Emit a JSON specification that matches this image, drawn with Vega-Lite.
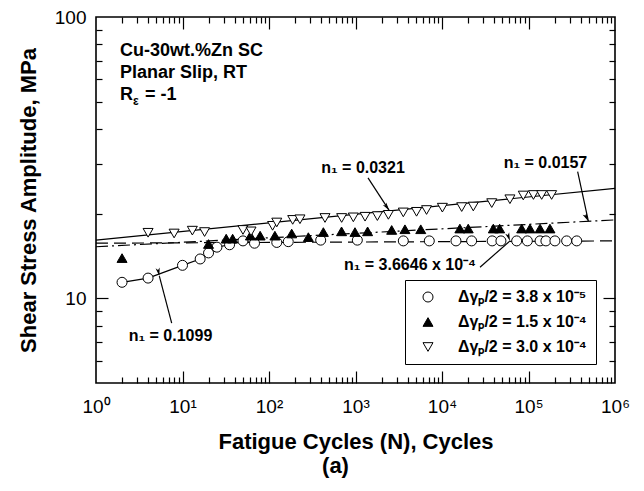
{
  "$schema": "https://vega.github.io/schema/vega-lite/v6.json",
  "width": 519,
  "height": 366,
  "autosize": "none",
  "padding": {"left": 96, "top": 17, "right": 29, "bottom": 108},
  "background": "white",
  "config": {
    "font": "Liberation Sans",
    "view": {"stroke": "black", "strokeWidth": 1.6},
    "axis": {"domain": false, "tickColor": "black", "tickWidth": 1.2, "labelColor": "black", "titleColor": "black", "grid": false, "labelFlush": false, "labelOverlap": false}
  },
  "title": {"text": "(a)", "orient": "bottom", "fontSize": 22, "fontWeight": "bold", "dx": -20, "offset": 4, "color": "black"},
  "datasets": {
    "fitSolid": [{"N": 1, "S": 16.1}, {"N": 1000000, "S": 24.6}],
    "fitDashDot": [{"N": 1, "S": 15.25}, {"N": 1000000, "S": 19.0}],
    "fitDashed": [{"N": 1, "S": 15.7}, {"N": 1000000, "S": 16.0}],
    "circleLine": [{"N": 2, "S": 11.4}, {"N": 4, "S": 11.8}, {"N": 10, "S": 13.1}, {"N": 16, "S": 13.8}, {"N": 20, "S": 14.5}, {"N": 25, "S": 15.2}, {"N": 35, "S": 15.5}, {"N": 50, "S": 16.0}, {"N": 68, "S": 15.7}],
    "points": [
      {"g": "A", "N": 2, "S": 11.4}, {"g": "A", "N": 4, "S": 11.8}, {"g": "A", "N": 10, "S": 13.1}, {"g": "A", "N": 16, "S": 13.8}, {"g": "A", "N": 20, "S": 14.5}, {"g": "A", "N": 25, "S": 15.2}, {"g": "A", "N": 35, "S": 15.5}, {"g": "A", "N": 50, "S": 16.0}, {"g": "A", "N": 68, "S": 15.7}, {"g": "A", "N": 123, "S": 15.8}, {"g": "A", "N": 167, "S": 15.9}, {"g": "A", "N": 396, "S": 16.1}, {"g": "A", "N": 1050, "S": 16.1}, {"g": "A", "N": 3570, "S": 16.0}, {"g": "A", "N": 7130, "S": 16.0}, {"g": "A", "N": 14500, "S": 16.0}, {"g": "A", "N": 22000, "S": 16.0}, {"g": "A", "N": 38000, "S": 16.0}, {"g": "A", "N": 48000, "S": 16.0}, {"g": "A", "N": 73000, "S": 16.0}, {"g": "A", "N": 97000, "S": 16.0}, {"g": "A", "N": 136000, "S": 16.0}, {"g": "A", "N": 159000, "S": 16.0}, {"g": "A", "N": 202000, "S": 16.0}, {"g": "A", "N": 276000, "S": 16.0}, {"g": "A", "N": 361000, "S": 16.0},
      {"g": "B", "N": 2, "S": 13.9}, {"g": "B", "N": 20, "S": 15.6}, {"g": "B", "N": 32, "S": 16.3}, {"g": "B", "N": 38, "S": 16.3}, {"g": "B", "N": 61, "S": 16.7}, {"g": "B", "N": 79, "S": 16.7}, {"g": "B", "N": 117, "S": 16.7}, {"g": "B", "N": 183, "S": 17.0}, {"g": "B", "N": 285, "S": 16.5}, {"g": "B", "N": 425, "S": 17.2}, {"g": "B", "N": 690, "S": 17.3}, {"g": "B", "N": 986, "S": 17.2}, {"g": "B", "N": 1380, "S": 17.3}, {"g": "B", "N": 2620, "S": 17.5}, {"g": "B", "N": 3730, "S": 17.6}, {"g": "B", "N": 5680, "S": 17.6}, {"g": "B", "N": 16100, "S": 17.7}, {"g": "B", "N": 20100, "S": 17.7}, {"g": "B", "N": 39200, "S": 17.7}, {"g": "B", "N": 46400, "S": 17.7}, {"g": "B", "N": 83400, "S": 17.7}, {"g": "B", "N": 104000, "S": 17.7}, {"g": "B", "N": 136000, "S": 17.7}, {"g": "B", "N": 177000, "S": 17.7},
      {"g": "C", "N": 4, "S": 17.1}, {"g": "C", "N": 8, "S": 17.0}, {"g": "C", "N": 13, "S": 17.4}, {"g": "C", "N": 18, "S": 17.2}, {"g": "C", "N": 50, "S": 17.5}, {"g": "C", "N": 62, "S": 17.3}, {"g": "C", "N": 110, "S": 18.1}, {"g": "C", "N": 123, "S": 18.6}, {"g": "C", "N": 188, "S": 19.0}, {"g": "C", "N": 228, "S": 19.1}, {"g": "C", "N": 444, "S": 19.3}, {"g": "C", "N": 692, "S": 19.3}, {"g": "C", "N": 944, "S": 19.4}, {"g": "C", "N": 1290, "S": 19.5}, {"g": "C", "N": 1790, "S": 19.6}, {"g": "C", "N": 2400, "S": 19.8}, {"g": "C", "N": 3570, "S": 20.2}, {"g": "C", "N": 5080, "S": 20.3}, {"g": "C", "N": 6630, "S": 20.6}, {"g": "C", "N": 10100, "S": 21.0}, {"g": "C", "N": 16900, "S": 21.1}, {"g": "C", "N": 23000, "S": 21.2}, {"g": "C", "N": 37600, "S": 21.8}, {"g": "C", "N": 61000, "S": 22.5}, {"g": "C", "N": 87000, "S": 23.2}, {"g": "C", "N": 114000, "S": 23.3}, {"g": "C", "N": 142000, "S": 23.3}, {"g": "C", "N": 185000, "S": 23.3}
    ],
    "arrows": [
      {"name": "a", "N1": 1395, "S1": 26.8, "N2": 2460, "S2": 20.5},
      {"name": "b", "N1": 370000, "S1": 28.2, "N2": 492000, "S2": 18.8},
      {"name": "c", "N1": 27500, "S1": 12.9, "N2": 61100, "S2": 16.0},
      {"name": "d", "N1": 7.5, "S1": 8.16, "N2": 5.4, "S2": 12.0}
    ],
    "labels": [
      {"N": 1222, "S": 29.1, "t": "n₁ =  0.0321"},
      {"N": 157000, "S": 30.3, "t": "n₁ = 0.0157"},
      {"N": 4266, "S": 13.1, "t": "n₁ = 3.6646 x 10⁻⁴"},
      {"N": 7.27, "S": 7.32, "t": "n₁ = 0.1099"}
    ],
    "info": [
      {"N": 1.89, "S": 75.5, "t": "Cu-30wt.%Zn SC"},
      {"N": 1.89, "S": 63.2, "t": "Planar Slip, RT"},
      {"N": 1.89, "S": 53.0, "t": "R"}
    ],
    "infoSub": [{"N": 1.89, "S": 53.0, "t": "ε"}],
    "infoRest": [{"N": 1.89, "S": 53.0, "t": "= -1"}]
  },
  "layer": [
    {
      "data": {"name": "fitSolid"},
      "mark": {"type": "line", "color": "black", "strokeWidth": 1.2},
      "encoding": {
        "x": {"field": "N", "type": "quantitative", "scale": {"type": "log", "domain": [1, 1000000], "nice": false},
          "axis": {"orient": "bottom", "title": "Fatigue Cycles (N), Cycles", "titleFontSize": 22, "titleFontWeight": "bold", "titlePadding": 15,
            "labelFontSize": 19, "labelPadding": 14, "ticks": false,
            "values": [1, 10, 100, 1000, 10000, 100000, 1000000],
            "labelExpr": "'10' + ['⁰','¹','²','³','⁴','⁵','⁶'][round(log(datum.value)/LN10)]"}},
        "y": {"field": "S", "type": "quantitative", "scale": {"type": "log", "domain": [5, 100], "nice": false},
          "axis": {"orient": "left", "title": "Shear Stress Amplitude, MPa", "titleFontSize": 22, "titleFontWeight": "bold", "titlePadding": 14,
            "labelFontSize": 19, "labelPadding": 10, "ticks": false,
            "values": [10, 100], "labelExpr": "datum.value == 10 ? '10' : '100'"}}
      }
    },
    {
      "data": {"name": "fitDashDot"},
      "mark": {"type": "line", "color": "black", "strokeWidth": 1.2, "strokeDash": [12, 4, 2, 4]},
      "encoding": {
        "x": {"field": "N", "type": "quantitative", "scale": {"type": "log", "domain": [1, 1000000], "nice": false},
          "axis": {"orient": "bottom", "title": null, "labels": false, "tickSize": -12, "values": [10, 100, 1000, 10000, 100000]}},
        "y": {"field": "S", "type": "quantitative", "scale": {"type": "log", "domain": [5, 100], "nice": false},
          "axis": {"orient": "left", "title": null, "labels": false, "tickSize": -12, "values": [10]}}
      }
    },
    {
      "data": {"name": "fitDashed"},
      "mark": {"type": "line", "color": "black", "strokeWidth": 1.2, "strokeDash": [12, 6]},
      "encoding": {
        "x": {"field": "N", "type": "quantitative", "scale": {"type": "log", "domain": [1, 1000000], "nice": false},
          "axis": {"orient": "bottom", "title": null, "labels": false, "tickSize": -6,
            "values": [2,3,4,5,6,7,8,9,20,30,40,50,60,70,80,90,200,300,400,500,600,700,800,900,2000,3000,4000,5000,6000,7000,8000,9000,20000,30000,40000,50000,60000,70000,80000,90000,200000,300000,400000,500000,600000,700000,800000,900000]}},
        "y": {"field": "S", "type": "quantitative", "scale": {"type": "log", "domain": [5, 100], "nice": false},
          "axis": {"orient": "left", "title": null, "labels": false, "tickSize": -6, "values": [6,7,8,9,20,30,40,50,60,70,80,90]}}
      }
    },
    {
      "data": {"name": "circleLine"},
      "mark": {"type": "line", "color": "black", "strokeWidth": 1.2},
      "encoding": {
        "x": {"field": "N", "type": "quantitative", "scale": {"type": "log", "domain": [1, 1000000], "nice": false},
          "axis": {"orient": "top", "title": null, "labels": false, "tickSize": -12, "values": [10, 100, 1000, 10000, 100000]}},
        "y": {"field": "S", "type": "quantitative", "scale": {"type": "log", "domain": [5, 100], "nice": false},
          "axis": {"orient": "right", "title": null, "labels": false, "tickSize": -12, "values": [10]}}
      }
    },
    {
      "data": {"name": "points"},
      "mark": {"type": "point", "filled": true, "size": 100, "opacity": 1, "strokeWidth": 1},
      "encoding": {
        "x": {"field": "N", "type": "quantitative", "scale": {"type": "log", "domain": [1, 1000000], "nice": false},
          "axis": {"orient": "top", "title": null, "labels": false, "tickSize": -6,
            "values": [2,3,4,5,6,7,8,9,20,30,40,50,60,70,80,90,200,300,400,500,600,700,800,900,2000,3000,4000,5000,6000,7000,8000,9000,20000,30000,40000,50000,60000,70000,80000,90000,200000,300000,400000,500000,600000,700000,800000,900000]}},
        "y": {"field": "S", "type": "quantitative", "scale": {"type": "log", "domain": [5, 100], "nice": false},
          "axis": {"orient": "right", "title": null, "labels": false, "tickSize": -6, "values": [6,7,8,9,20,30,40,50,60,70,80,90]}},
        "stroke": {"field": "g", "type": "nominal",
          "scale": {"domain": ["A", "B", "C"], "range": ["black", "black", "black"]},
          "legend": {"orient": "none", "legendX": 309, "legendY": 263, "title": null, "strokeColor": "black", "padding": 9, "labelFontSize": 16, "labelFontWeight": "bold", "labelColor": "black", "symbolSize": 100, "rowPadding": 9, "symbolStrokeWidth": 1, "labelOffset": 22, "symbolOffset": 6, "fillColor": "white",
            "labelExpr": "datum.value == 'A' ? 'Δγₚ/2 = 3.8 x 10⁻⁵' : datum.value == 'B' ? 'Δγₚ/2 = 1.5 x 10⁻⁴' : 'Δγₚ/2 = 3.0 x 10⁻⁴'"}},
        "shape": {"field": "g", "type": "nominal",
          "scale": {"domain": ["A", "B", "C"], "range": ["circle", "triangle-up", "triangle-down"]},
          "legend": {"orient": "none", "legendX": 309, "legendY": 263, "title": null, "strokeColor": "black", "padding": 9, "labelFontSize": 16, "labelFontWeight": "bold", "labelColor": "black", "symbolSize": 100, "rowPadding": 9, "symbolStrokeWidth": 1, "labelOffset": 22, "symbolOffset": 6, "fillColor": "white",
            "labelExpr": "datum.value == 'A' ? 'Δγₚ/2 = 3.8 x 10⁻⁵' : datum.value == 'B' ? 'Δγₚ/2 = 1.5 x 10⁻⁴' : 'Δγₚ/2 = 3.0 x 10⁻⁴'"}},
        "fill": {"field": "g", "type": "nominal",
          "scale": {"domain": ["A", "B", "C"], "range": ["white", "black", "white"]},
          "legend": {"orient": "none", "legendX": 309, "legendY": 263, "title": null, "strokeColor": "black", "padding": 9, "labelFontSize": 16, "labelFontWeight": "bold", "labelColor": "black", "symbolSize": 100, "rowPadding": 9, "symbolStrokeWidth": 1, "labelOffset": 22, "symbolOffset": 6, "fillColor": "white",
            "labelExpr": "datum.value == 'A' ? 'Δγₚ/2 = 3.8 x 10⁻⁵' : datum.value == 'B' ? 'Δγₚ/2 = 1.5 x 10⁻⁴' : 'Δγₚ/2 = 3.0 x 10⁻⁴'"}}
      }
    },
    {
      "data": {"name": "arrows"},
      "mark": {"type": "rule", "color": "black", "strokeWidth": 1.2},
      "encoding": {
        "x": {"field": "N1", "type": "quantitative", "scale": {"type": "log", "domain": [1, 1000000], "nice": false}, "axis": null},
        "y": {"field": "S1", "type": "quantitative", "scale": {"type": "log", "domain": [5, 100], "nice": false}, "axis": null},
        "x2": {"field": "N2"},
        "y2": {"field": "S2"}
      }
    },
    {
      "data": {"name": "arrows"},
      "mark": {"type": "point", "shape": "M0,0 L-0.5,2 L0,1.5 L0.5,2 Z", "filled": true, "color": "black", "size": 70, "opacity": 1},
      "encoding": {
        "x": {"field": "N2", "type": "quantitative", "scale": {"type": "log", "domain": [1, 1000000], "nice": false}, "axis": null},
        "y": {"field": "S2", "type": "quantitative", "scale": {"type": "log", "domain": [5, 100], "nice": false}, "axis": null},
        "angle": {"field": "name", "type": "nominal", "scale": {"domain": ["a", "b", "c", "d"], "range": [145, 168, 47.6, 345]}, "legend": null}
      }
    },
    {
      "data": {"name": "labels"},
      "mark": {"type": "text", "font": "Liberation Sans", "fontSize": 16, "fontWeight": "bold", "color": "black", "align": "center", "baseline": "middle"},
      "encoding": {
        "x": {"field": "N", "type": "quantitative", "scale": {"type": "log", "domain": [1, 1000000], "nice": false}, "axis": null},
        "y": {"field": "S", "type": "quantitative", "scale": {"type": "log", "domain": [5, 100], "nice": false}, "axis": null},
        "text": {"field": "t"}
      }
    },
    {
      "data": {"name": "info"},
      "mark": {"type": "text", "font": "Liberation Sans", "fontSize": 18, "fontWeight": "bold", "color": "black", "align": "left", "baseline": "middle"},
      "encoding": {
        "x": {"field": "N", "type": "quantitative", "scale": {"type": "log", "domain": [1, 1000000], "nice": false}, "axis": null},
        "y": {"field": "S", "type": "quantitative", "scale": {"type": "log", "domain": [5, 100], "nice": false}, "axis": null},
        "text": {"field": "t"}
      }
    },
    {
      "data": {"name": "infoSub"},
      "mark": {"type": "text", "font": "Liberation Sans", "fontSize": 12, "fontWeight": "bold", "color": "black", "align": "left", "baseline": "middle", "dx": 13, "dy": 6},
      "encoding": {
        "x": {"field": "N", "type": "quantitative", "scale": {"type": "log", "domain": [1, 1000000], "nice": false}, "axis": null},
        "y": {"field": "S", "type": "quantitative", "scale": {"type": "log", "domain": [5, 100], "nice": false}, "axis": null},
        "text": {"field": "t"}
      }
    },
    {
      "data": {"name": "infoRest"},
      "mark": {"type": "text", "font": "Liberation Sans", "fontSize": 18, "fontWeight": "bold", "color": "black", "align": "left", "baseline": "middle", "dx": 25},
      "encoding": {
        "x": {"field": "N", "type": "quantitative", "scale": {"type": "log", "domain": [1, 1000000], "nice": false}, "axis": null},
        "y": {"field": "S", "type": "quantitative", "scale": {"type": "log", "domain": [5, 100], "nice": false}, "axis": null},
        "text": {"field": "t"}
      }
    }
  ],
  "resolve": {"axis": {"x": "independent", "y": "independent"}}
}
